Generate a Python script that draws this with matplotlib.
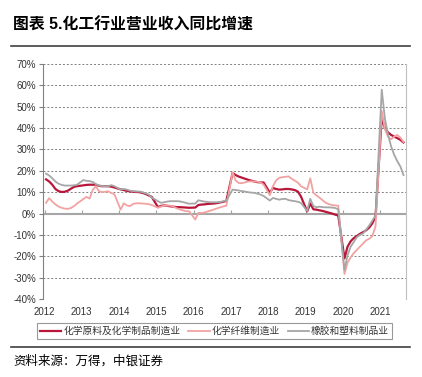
import matplotlib
matplotlib.use("Agg")
import matplotlib.pyplot as plt
from matplotlib.lines import Line2D

plt.rcParams['font.family'] = ['Liberation Sans', 'Noto Sans CJK SC']
plt.rcParams['axes.unicode_minus'] = False

# monthly cumulative YoY (%), Feb..Dec each year (Jan merged with Feb), 2021 Feb..Sep
years = list(range(2012, 2022))
series_names = ['化学原料及化学制品制造业', '化学纤维制造业', '橡胶和塑料制品业']

chem_raw = [
    16.0, 15.0, 13.5, 11.5, 10.5, 10.1, 10.2, 10.7, 11.6, 12.5, 12.8,   # 2012
    13.2, 13.4, 13.5, 13.5, 13.5, 13.0, 12.8, 12.8, 12.8, 12.6, 12.2,   # 2013
    11.3, 11.0, 10.6, 10.4, 10.2, 10.1, 10.0, 9.7, 9.2, 8.5, 7.8,       # 2014
    3.0, 3.6, 3.8, 3.6, 3.4, 3.2, 3.0, 3.0, 2.9, 2.8, 2.7,              # 2015
    2.8, 4.0, 4.2, 4.3, 4.5, 4.6, 4.7, 4.9, 5.2, 5.5, 5.9,              # 2016
    19.0, 18.0, 17.3, 16.8, 16.3, 15.8, 15.4, 15.0, 14.7, 14.6, 14.5,   # 2017
    9.7, 12.0, 11.5, 11.2, 11.3, 11.5, 11.5, 11.3, 11.0, 10.3, 8.0,     # 2018
    1.0, 4.7, 2.0, 1.8, 1.5, 1.2, 0.8, 0.4, 0.0, -0.5, -0.9,            # 2019
    -21.0, -15.5, -13.0, -11.5, -10.5, -9.5, -8.7, -7.8, -6.5, -4.5, -1.5,  # 2020
    45.0, 40.0, 38.0, 36.8, 36.0, 35.3, 34.5, 33.3,                     # 2021
]
fiber = [
    5.0, 7.2, 5.6, 4.3, 3.3, 2.7, 2.3, 2.2, 2.6, 3.5, 4.7,
    6.8, 7.8, 7.0, 11.0, 12.8, 10.5, 10.0, 10.2, 10.4, 9.6, 9.0,
    1.8, 4.8, 3.8, 3.5, 4.5, 4.8, 4.8, 4.7, 4.6, 4.4, 4.0,
    2.7, 3.3, 3.7, 3.7, 3.7, 3.2, 2.5, 2.0, 1.5, 1.1, 1.1,
    -2.8, 0.3, 0.3, 0.5, 1.0, 1.4, 1.9, 2.4, 2.9, 3.3, 3.7,
    19.3, 15.5, 14.3, 14.2, 14.6, 15.0, 15.1, 15.0, 14.9, 14.6, 13.5,
    8.6, 12.8, 15.5, 16.7, 17.0, 17.2, 17.4, 16.3, 15.4, 14.5, 12.8,
    11.3, 16.5, 9.7, 8.5, 7.4, 6.2, 5.0, 4.4, 4.0, 3.8, 3.7,
    -28.3, -23.0, -20.5, -18.5, -17.0, -15.5, -14.0, -12.5, -11.8, -10.5, -6.0,
    48.0, 39.5, 36.0, 34.8, 36.0, 36.8, 35.5, 33.5,
]
rubber = [
    18.7, 17.8, 16.5, 15.0, 14.0, 13.4, 13.1, 13.1, 13.1, 13.2, 13.5,
    15.7, 15.3, 15.2, 14.8, 13.8, 13.1, 12.9, 12.8, 12.8, 13.3, 12.8,
    11.2, 11.5, 11.2, 10.7, 10.5, 10.3, 10.3, 10.0, 9.5, 8.9, 7.5,
    5.8, 5.0, 5.3, 5.6, 5.8, 5.8, 5.8, 5.7, 5.4, 5.0, 4.6,
    4.7, 6.2, 5.9, 5.6, 5.4, 5.3, 5.3, 5.3, 5.4, 5.7, 6.1,
    11.2, 11.0, 10.8, 10.5, 10.3, 10.0, 9.8, 9.7, 9.3, 8.9, 8.2,
    6.1, 7.3, 6.9, 6.5, 6.8, 6.9, 6.3, 6.0, 5.8, 5.5, 5.0,
    1.2, 6.9, 3.5, 3.0, 3.2, 3.0, 2.9, 2.9, 2.8, 2.6, 2.0,
    -26.4, -19.5, -15.5, -13.3, -11.0, -10.0, -9.3, -7.5, -5.5, -3.3, -0.8,
    58.0, 44.5, 37.0, 31.5, 27.5, 24.5, 22.0, 18.0,
]
y_ticks = list(range(-40, 80, 10))

# time axis in fractional years
t = []
for yr in years:
    last = 9 if yr == 2021 else 12
    for m in range(2, last + 1):
        t.append(yr + (m - 1.5) / 12)

colors = ['#B8163A', '#F3A2A2', '#A6A6A6']
widths = [1.6, 1.3, 1.3]

fig = plt.figure(figsize=(4.22, 3.77), dpi=100)
ax = fig.add_axes([43 / 422, 1 - 299 / 377, 363 / 422, 235 / 377])

ax.axhline(0, color='#A6A6A6', lw=1.5, zorder=1.5)
for vals, c, w in zip([chem_raw, fiber, rubber], colors, widths):
    ax.plot(t, vals, color=c, lw=w, zorder=2)

ax.set_ylim(-40, 70)
ax.set_xlim(2012 - 1.5 / 37.3, 2012 + (406 - 44.5) / 37.3)
ax.set_yticks(y_ticks)
ax.set_yticklabels([f'{v}%' for v in y_ticks], fontsize=7, color='#333333')
ax.set_xticks(years)
ax.set_xticklabels([str(y) for y in years], fontsize=7, color='#333333')
ax.tick_params(axis='x', length=0, pad=6)
ax.tick_params(axis='y', length=3, color='#808080', pad=2)
ax.yaxis.grid(True, linestyle=(0, (2, 2)), color='#808080', lw=0.7)
ax.set_axisbelow(True)

for s in ['top', 'bottom']:
    ax.spines[s].set_visible(False)
ax.spines['left'].set_color('#808080')
ax.spines['right'].set_color('#BFBFBF')

# small year ticks on the 0% line
sec = ax.secondary_xaxis(4 / 11)
sec.set_xticks(years)
sec.tick_params(direction='in', length=3, color='#A0A0A0', labelbottom=False)
for s in sec.spines.values():
    s.set_visible(False)

handles = [Line2D([0], [0], color=c, lw=w) for c, w in zip(colors, widths)]
leg = fig.legend(handles, series_names, loc='center',
                 bbox_to_anchor=(214.5 / 422, 1 - 331 / 377), ncol=3, fontsize=7,
                 frameon=True, fancybox=False, edgecolor='#808080',
                 handlelength=2.2, handletextpad=0.2, columnspacing=0.8,
                 borderpad=0.35)
leg.get_frame().set_linewidth(0.8)
for txt in leg.get_texts():
    txt.set_color('#333333')

fig.text(13 / 422, 1 - 25 / 377, '图表 5.化工行业营业收入同比增速',
         fontsize=11.4, fontweight='bold', va='center')
fig.add_artist(Line2D([11 / 422, 410 / 422], [1 - 46 / 377] * 2, color='#404040', lw=1.2))
fig.add_artist(Line2D([11 / 422, 410 / 422], [1 - 347 / 377] * 2, color='#404040', lw=1.2))
fig.text(13 / 422, 1 - 361 / 377, '资料来源：万得，中银证券', fontsize=9, va='center')

fig.savefig('out.png', dpi=100)
